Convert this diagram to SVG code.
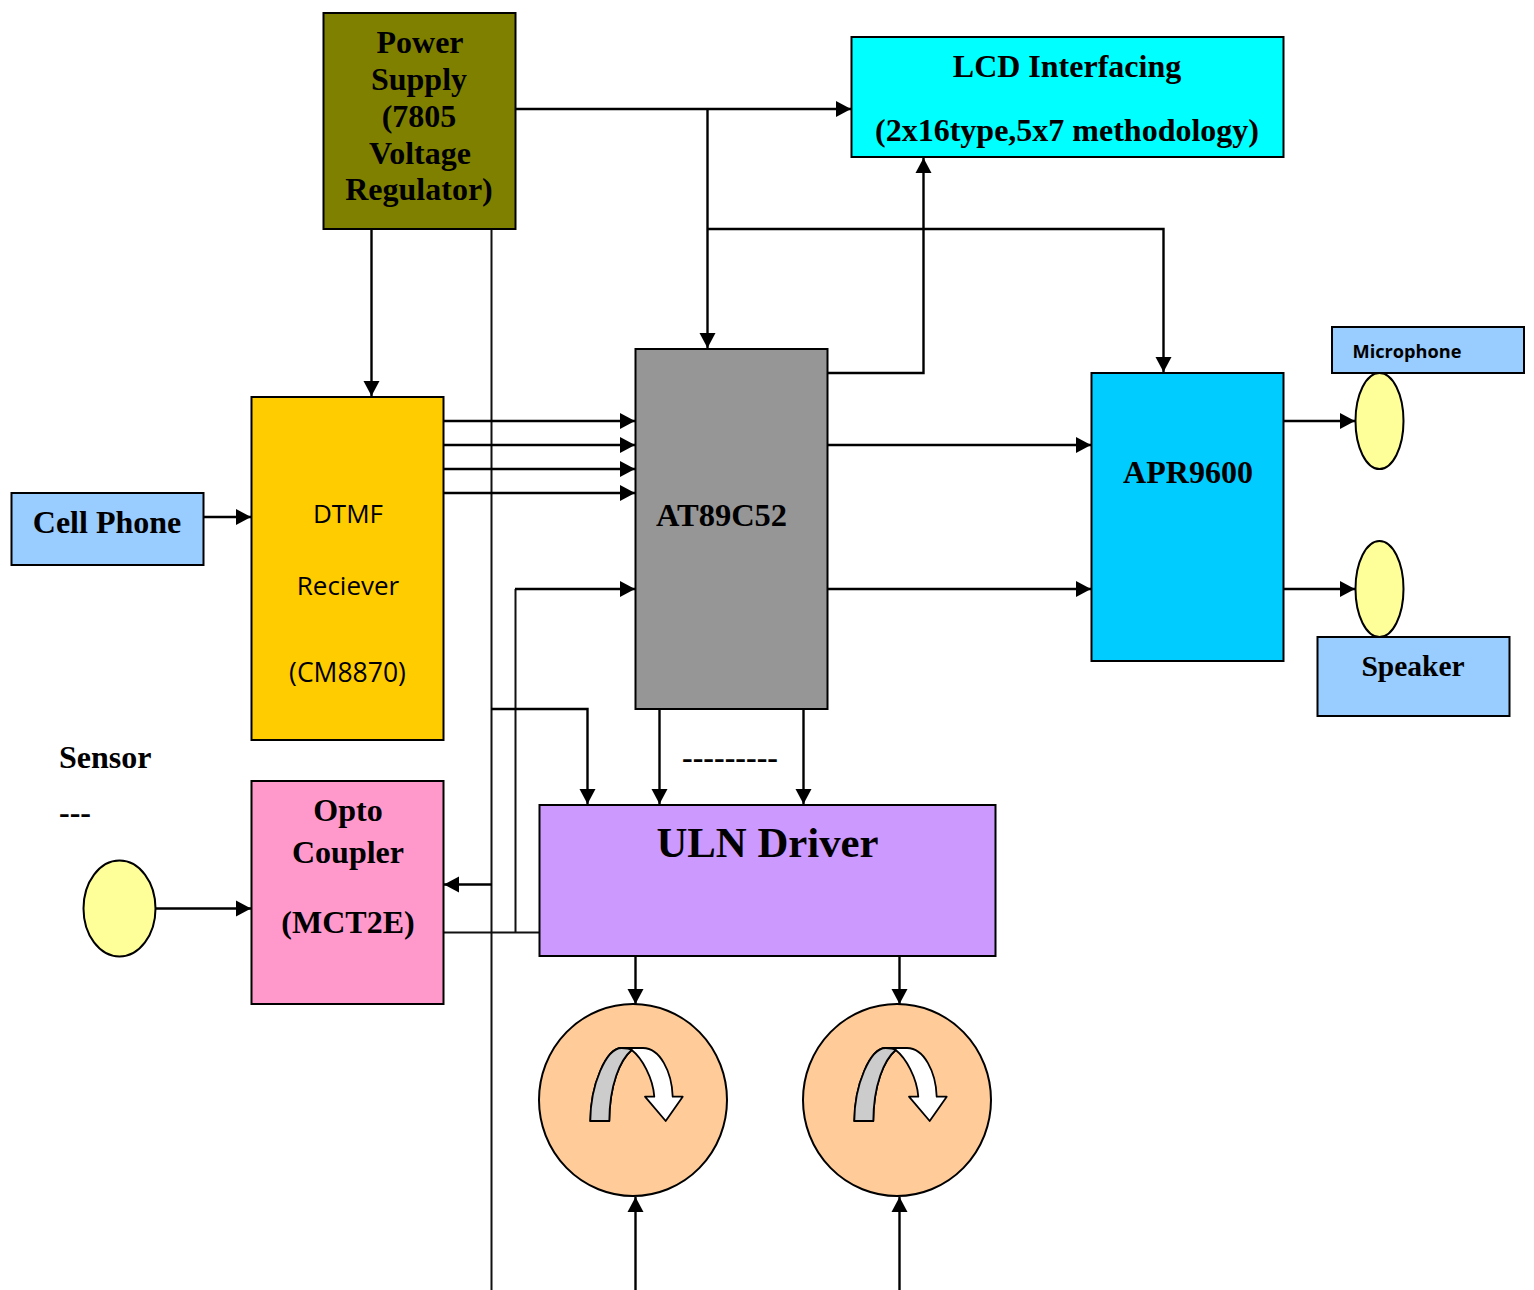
<svg xmlns="http://www.w3.org/2000/svg" width="1534" height="1290" viewBox="0 0 1534 1290">
<style>
.b{stroke:#000;stroke-width:2}
.s{font-family:"Liberation Serif",serif;font-weight:bold;fill:#000;text-anchor:middle}
.c{font-family:"Open Sans","Noto Sans",sans-serif;fill:#000;text-anchor:middle}
.w{fill:none;stroke:#000;stroke-width:2.4}
.t{fill:none;stroke:#111;stroke-width:2}
</style>
<defs>
<marker id="a" markerUnits="userSpaceOnUse" markerWidth="16" markerHeight="18" refX="15" refY="9" orient="auto"><path d="M0 1L15 9L0 17Z" fill="#000"/></marker>
<path id="cv" d="M590.3 1121C590.5 1085 606 1048 621.7 1048L643 1048C660 1048 672 1072 672.7 1096.7L682.7 1096.7L665.7 1121L645 1096.7L654.3 1096.7C653 1078 642 1058 631.7 1050C620 1060 609.5 1085 609.3 1121Z" fill="#fff" stroke="#000" stroke-width="1.8" stroke-linejoin="round"/>
<path id="cg" d="M590.3 1121C590.5 1085 606 1048 621.7 1048C625 1048 629 1048 631.7 1050C620 1060 609.5 1085 609.3 1121Z" fill="#ccc" stroke="#000" stroke-width="1.8" stroke-linejoin="round"/>
</defs>
<rect width="1534" height="1290" fill="#fff"/>
<g id="connectors">
<path class="t" d="M491.500 229V1290"/>
<path class="t" d="M515.500 933V589"/>
<path class="t" d="M444 932.500H539"/>
<path class="w" d="M515 589H635" marker-end="url(#a)"/>
<path class="w" d="M516 109H851" marker-end="url(#a)"/>
<path class="w" d="M707.500 109V348" marker-end="url(#a)"/>
<path class="w" d="M707 229H1163.500V372" marker-end="url(#a)"/>
<path class="w" d="M828 373H923.500V158" marker-end="url(#a)"/>
<path class="w" d="M371.500 229V396" marker-end="url(#a)"/>
<path class="w" d="M444 421H635" marker-end="url(#a)"/>
<path class="w" d="M444 445H635" marker-end="url(#a)"/>
<path class="w" d="M444 469H635" marker-end="url(#a)"/>
<path class="w" d="M444 493H635" marker-end="url(#a)"/>
<path class="w" d="M204 517H251" marker-end="url(#a)"/>
<path class="w" d="M828 445H1091" marker-end="url(#a)"/>
<path class="w" d="M828 589H1091" marker-end="url(#a)"/>
<path class="w" d="M1284 421H1355" marker-end="url(#a)"/>
<path class="w" d="M1284 589H1355" marker-end="url(#a)"/>
<path class="w" d="M491 709H587.500V804" marker-end="url(#a)"/>
<path class="w" d="M659.500 709V804" marker-end="url(#a)"/>
<path class="w" d="M803.500 709V804" marker-end="url(#a)"/>
<path class="w" d="M492 884.500H444" marker-end="url(#a)"/>
<path class="w" d="M156 908.500H251" marker-end="url(#a)"/>
<path class="w" d="M635.500 957V1004" marker-end="url(#a)"/>
<path class="w" d="M899.500 957V1004" marker-end="url(#a)"/>
<path class="w" d="M635.500 1290V1197" marker-end="url(#a)"/>
<path class="w" d="M899.500 1290V1197" marker-end="url(#a)"/>
</g>
<g id="power"><rect class="b" x="323.500" y="13" width="192" height="216" fill="#808000"/>
<text class="s" font-size="32" x="420" y="53">Power</text><text class="s" font-size="32" x="419" y="90">Supply</text><text class="s" font-size="32" x="419" y="127">(7805</text><text class="s" font-size="32" x="420" y="164">Voltage</text><text class="s" font-size="32" x="419" y="200">Regulator)</text></g>
<g id="lcd"><rect class="b" x="851.500" y="37" width="432" height="120" fill="#0ff"/>
<text class="s" font-size="32" x="1067" y="77">LCD Interfacing</text><text class="s" font-size="32" x="1067" y="141">(2x16type,5x7 methodology)</text></g>
<g id="mcu"><rect class="b" x="635.500" y="349" width="192" height="360" fill="#969696"/>
<text class="s" font-size="32.500" x="721.500" y="526">AT89C52</text></g>
<g id="apr"><rect class="b" x="1091.500" y="373" width="192" height="288" fill="#0cf"/>
<text class="s" font-size="32" x="1188" y="483">APR9600</text></g>
<g id="mic"><rect class="b" x="1332" y="327" width="192" height="46" fill="#9cf"/>
<text class="c" font-size="18.200" font-weight="bold" x="1407" y="358">Microphone</text></g>
<g id="mic-ellipse"><ellipse class="b" cx="1379.500" cy="421" rx="24" ry="48" fill="#ff9"/></g>
<g id="spk-ellipse"><ellipse class="b" cx="1379.500" cy="589" rx="24" ry="48" fill="#ff9"/></g>
<g id="speaker"><rect class="b" x="1317.500" y="637" width="192" height="79" fill="#9cf"/>
<text class="s" font-size="29.500" x="1413" y="676">Speaker</text></g>
<g id="cell"><rect class="b" x="11.500" y="493" width="192" height="72" fill="#9cf"/>
<text class="s" font-size="32" x="107" y="533">Cell Phone</text></g>
<g id="dtmf"><rect class="b" x="251.500" y="397" width="192" height="343" fill="#fc0"/>
<text class="c" font-size="26" x="348" y="523">DTMF</text><text class="c" font-size="26" x="348" y="595">Reciever</text><text class="c" font-size="26.500" x="347.500" y="682">(CM8870)</text></g>
<g id="sensor"><text class="s" font-size="32" x="59" y="768" style="text-anchor:start">Sensor</text><text class="s" font-size="32" x="59" y="823" style="text-anchor:start">---</text>
<ellipse class="b" cx="119.500" cy="908.500" rx="36" ry="48" fill="#ff9"/></g>
<g id="opto"><rect class="b" x="251.500" y="781" width="192" height="223" fill="#f9c"/>
<text class="s" font-size="32" x="348" y="821">Opto</text><text class="s" font-size="32" x="348" y="863">Coupler</text><text class="s" font-size="32" x="348" y="933">(MCT2E)</text></g>
<g id="uln"><rect class="b" x="539.500" y="805" width="456" height="151" fill="#c9f"/>
<text class="s" font-size="42.800" x="767.500" y="857">ULN Driver</text></g>
<g id="dashes"><text class="s" font-size="32" x="730" y="768">---------</text></g>
<g id="motor1"><ellipse class="b" cx="633" cy="1100" rx="94" ry="96" fill="#fc9"/><use href="#cv"/><use href="#cg"/></g>
<g id="motor2"><ellipse class="b" cx="897" cy="1100" rx="94" ry="96" fill="#fc9"/><use href="#cv" x="264"/><use href="#cg" x="264"/></g>
</svg>
